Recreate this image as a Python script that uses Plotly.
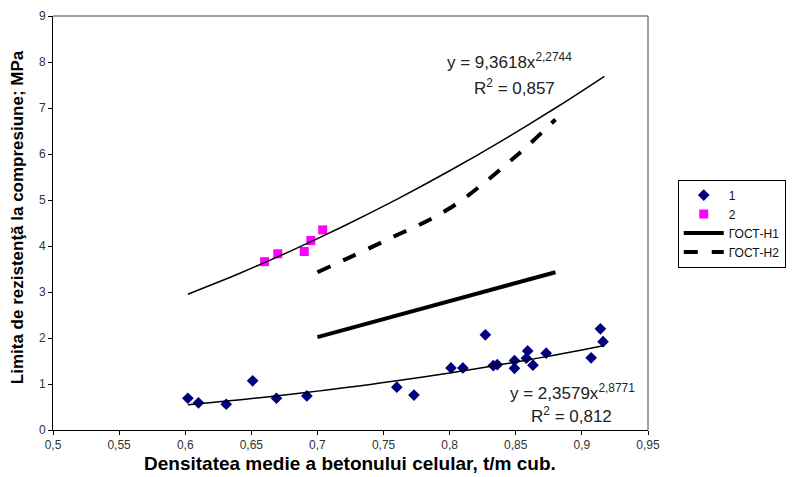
import numpy as np
import plotly.graph_objects as go

# Series 1 (navy diamonds)
x1 = [0.602, 0.610, 0.631, 0.651, 0.669, 0.692, 0.760, 0.773, 0.801, 0.810,
      0.827, 0.833, 0.836, 0.849, 0.849, 0.858, 0.859, 0.863, 0.873, 0.907,
      0.914, 0.916]
y1 = [0.69, 0.59, 0.56, 1.07, 0.69, 0.74, 0.93, 0.76, 1.35, 1.35,
      2.07, 1.40, 1.42, 1.51, 1.34, 1.56, 1.72, 1.41, 1.67, 1.57,
      2.20, 1.92]
# Series 2 (magenta squares)
x2 = [0.660, 0.670, 0.690, 0.695, 0.704]
y2 = [3.66, 3.83, 3.88, 4.12, 4.35]

# Trend lines (power fits as shown on chart)
fit1_a, fit1_b = 2.3579, 2.8771
fit2_a, fit2_b = 9.3618, 2.2744
fit_x = [0.602, 0.62, 0.64, 0.66, 0.68, 0.70, 0.72, 0.74, 0.76, 0.78, 0.80,
         0.82, 0.84, 0.86, 0.88, 0.90, 0.917]

# GOST lines
gost1_x = [0.70, 0.88]
gost1_y = [2.02, 3.43]
gost2_x = [0.70, 0.75, 0.80, 0.85, 0.88]
gost2_y = [3.43, 4.10, 4.82, 5.95, 6.75]

xticks = [0.5, 0.55, 0.6, 0.65, 0.7, 0.75, 0.8, 0.85, 0.9, 0.95]
xtick_text = ["0,5", "0,55", "0,6", "0,65", "0,7", "0,75", "0,8", "0,85", "0,9", "0,95"]
yticks = [0, 1, 2, 3, 4, 5, 6, 7, 8, 9]

FONT = "Liberation Sans, Arial, sans-serif"

fx = np.array(fit_x)
fig = go.Figure()
fig.add_trace(go.Scatter(x=x1, y=y1, mode="markers", name="1",
                         marker=dict(symbol="diamond", size=9, color="#000080")))
fig.add_trace(go.Scatter(x=x2, y=y2, mode="markers", name="2",
                         marker=dict(symbol="square", size=9, color="#ff00ff")))
fig.add_trace(go.Scatter(x=gost1_x, y=gost1_y, mode="lines", name="ГОСТ-Н1",
                         line=dict(color="black", width=4)))
fig.add_trace(go.Scatter(x=gost2_x, y=gost2_y, mode="lines", name="ГОСТ-Н2",
                         line=dict(color="black", width=4, dash="14px,14px", shape="spline")))
fig.add_trace(go.Scatter(x=fx, y=fit1_a * fx ** fit1_b, mode="lines", showlegend=False,
                         line=dict(color="black", width=1.5, shape="spline")))
fig.add_trace(go.Scatter(x=fx, y=fit2_a * fx ** fit2_b, mode="lines", showlegend=False,
                         line=dict(color="black", width=1.5, shape="spline")))

ann_font = dict(family=FONT, size=17, color="#222")
fig.add_annotation(x=0.845, y=8.02, xref="x", yref="y", showarrow=False,
                   text="y = 9,3618x<sup>2,2744</sup>", xanchor="center", yanchor="middle",
                   font=ann_font)
fig.add_annotation(x=0.849, y=7.45, xref="x", yref="y", showarrow=False,
                   text="R<sup>2</sup> = 0,857", xanchor="center", yanchor="middle",
                   font=ann_font)
fig.add_annotation(x=0.893, y=0.83, xref="x", yref="y", showarrow=False,
                   text="y = 2,3579x<sup>2,8771</sup>", xanchor="center", yanchor="middle",
                   font=ann_font)
fig.add_annotation(x=0.892, y=0.33, xref="x", yref="y", showarrow=False,
                   text="R<sup>2</sup> = 0,812", xanchor="center", yanchor="middle",
                   font=ann_font)

# axis titles
fig.add_annotation(x=0.499, y=-0.08, xref="paper", yref="paper", showarrow=False,
                   text="<b>Densitatea medie a betonului celular, t/m cub.</b>",
                   xanchor="center", yanchor="middle",
                   font=dict(family=FONT, size=19, color="black"))
fig.add_annotation(x=-0.0605, y=0.514, xref="paper", yref="paper", showarrow=False,
                   text="<b>Limita de rezistenţă la compresiune; MPa</b>", textangle=-90,
                   xanchor="center", yanchor="middle",
                   font=dict(family=FONT, size=17, color="black"))

# top/right frame (grey)
fig.add_shape(type="line", xref="paper", yref="paper", x0=0, x1=1, y0=1, y1=1,
              line=dict(color="#808080", width=1.5))
fig.add_shape(type="line", xref="paper", yref="paper", x0=1, x1=1, y0=0, y1=1,
              line=dict(color="#808080", width=1.5))

# page body has an 8px default margin, so the figure is sized/offset to compensate
fig.update_layout(
    width=789, height=469,
    margin=dict(l=45, r=149, t=8, b=47),
    paper_bgcolor="white", plot_bgcolor="white",
    font=dict(family=FONT, size=12, color="#333"),
    separators=", ",
    showlegend=True,
    legend=dict(x=1.05, y=0.605, xanchor="left", yanchor="top",
                bordercolor="black", borderwidth=1, bgcolor="white",
                font=dict(family=FONT, size=12, color="#111"),
                itemwidth=40, tracegroupgap=0),
    xaxis=dict(range=[0.5, 0.95], tickvals=xticks, ticktext=xtick_text,
               showgrid=False, zeroline=False, showline=True, linecolor="black",
               linewidth=1, mirror=False, ticks="outside", ticklen=4,
               tickcolor="black", automargin=False,
               tickfont=dict(family=FONT, size=12, color="#333")),
    yaxis=dict(range=[0, 9], tickvals=yticks, showgrid=False, zeroline=False,
               showline=True, linecolor="black", linewidth=1, mirror=False,
               ticks="outside", ticklen=4, tickcolor="black", automargin=False,
               tickfont=dict(family=FONT, size=12, color="#333")),
)

fig.write_html("out.html")
